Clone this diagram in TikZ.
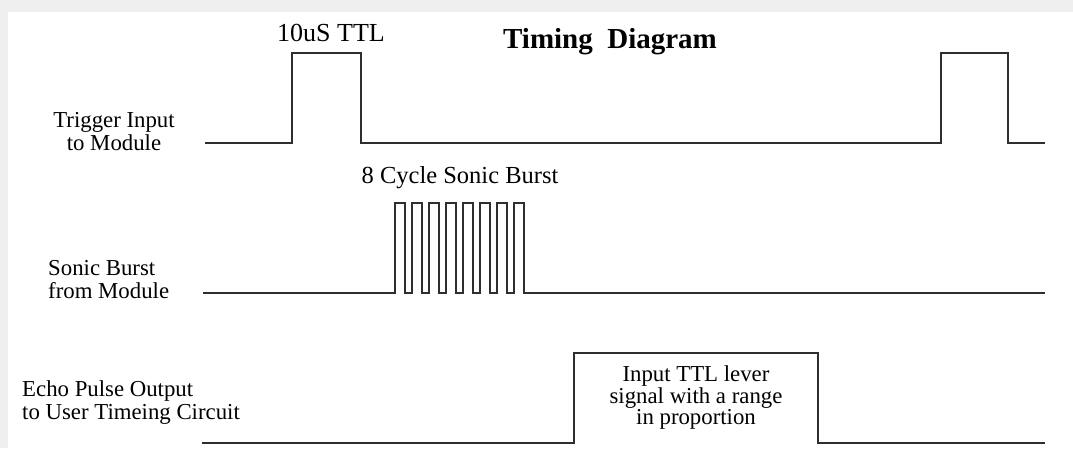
\documentclass[tikz,border=0pt]{standalone}
\usepackage{fontspec}
\setmainfont{Liberation Serif}
\usepackage{xcolor}
\usepackage{tikz}
\definecolor{tdShade}{HTML}{EFEFEF}
\definecolor{tdWave}{HTML}{2E2E2E}
\tikzset{wave/.style={tdWave,line width=1.7pt},lbl/.style={inner sep=0pt,font=\fontsize{22.8}{23}\selectfont}}

\begin{document}
\begin{tikzpicture}[x=1pt,y=-1pt]
\useasboundingbox(0,0)rectangle(1073,448);
\fill[tdShade](0,0)rectangle(1073,448);\fill[white](8,12)rectangle(1073,448);
\node[font=\bfseries\fontsize{29}{29}\selectfont,inner sep=0pt](title) at (610,42){Timing\ \ Diagram};
% trigger
\def\lo{143}\def\hi{53}
\draw[wave](205,\lo)--(292,\lo)--(292,\hi)--(361,\hi)--(361,\lo)--(941,\lo)--(941,\hi)--(1008,\hi)--(1008,\lo)--(1045,\lo);
\node[lbl,font=\fontsize{26}{22}\selectfont](ttl) at (331,33){10uS TTL};
\node[lbl,align=center](trig) at (114,132){Trigger Input\\to Module};
% sonic burst
\def\lo{293}\def\hi{203}
\draw[wave](203,\lo) foreach \k in {0,...,7}{--({395+17*\k},\lo)--({395+17*\k},\hi)--({405+17*\k},\hi)--({405+17*\k},\lo)}--(1045,\lo);
\node[lbl,font=\fontsize{24.5}{22}\selectfont](burst) at (460,178){8 Cycle Sonic Burst};
\node[lbl,align=left,anchor=west](sonic) at (48,280){Sonic Burst\\from Module};
% echo
\def\lo{443}\def\hi{353}
\draw[wave](202,\lo)--(574,\lo)--(574,\hi)--(818,\hi)--(818,\lo)--(1045,\lo);
\node[lbl,align=center,font=\fontsize{22.8}{21.5}\selectfont](range) at (696,398){Input TTL lever\\signal with a range\\in proportion};
\node[lbl,align=left,anchor=west](echo) at (22,403){Echo Pulse Output\\to User Timeing Circuit};
\end{tikzpicture}
\end{document}
